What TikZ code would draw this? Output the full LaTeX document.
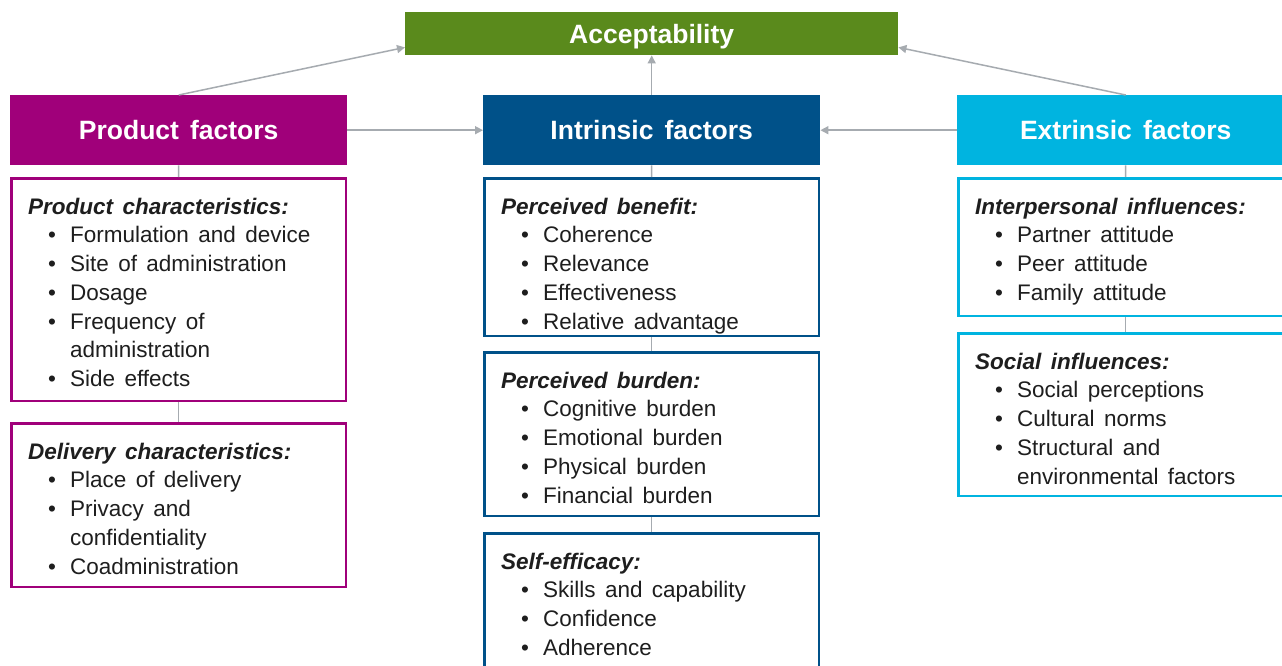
\documentclass[tikz,border=0pt]{standalone}
\usepackage{fontspec}
\setmainfont[WordSpace=1.5]{Liberation Sans}
\usetikzlibrary{arrows.meta,calc}

\definecolor{accgreen}{HTML}{5A8A1C}
\definecolor{prodc}{HTML}{A0007A}
\definecolor{intrc}{HTML}{005189}
\definecolor{extrc}{HTML}{00B4E0}
\definecolor{linkc}{HTML}{A6ABB0}
\definecolor{inkc}{HTML}{1E1E1E}

% list helpers for the panel texts
\newcommand\boxtitle[1]{\strut\textbf{\textit{#1}}}
\newcommand\bitem[1]{\strut\hspace*{20pt}\makebox[22pt][l]{\textbullet}#1}
\newcommand\bcont[1]{\strut\hspace*{42pt}#1}

\begin{document}
\begin{tikzpicture}[x=1pt,y=-1pt,
  hdr/.style={inner sep=0pt, anchor=north west, text=white,
    font=\fontsize{26.5}{30}\selectfont\bfseries, minimum height=70pt, minimum width=337pt},
  panel/.style={draw, line width=2.5pt, fill=white, inner sep=0pt, anchor=north west,
    minimum width=334.5pt},
  txt/.style={inner sep=0pt, anchor=north west, align=left, text=inkc,
    font=\fontsize{22.5}{28.7}\selectfont},
  conn/.style={draw=linkc, line width=1.5pt, -{Triangle[length=8pt,width=8pt]}},
  link/.style={draw=linkc, line width=1.5pt}
]
\clip (0,0) rectangle (1282,666);
\fill[white] (0,0) rectangle (1282,666);

% top box
\node[inner sep=0pt, anchor=north west, fill=accgreen, minimum width=493pt, minimum height=43pt,
  text depth=0pt, text=white, font=\fontsize{26.5}{30}\selectfont\bfseries] (acc) at (405,12) {Acceptability};

% column headers
\node[hdr, fill=prodc] (prod) at (10,95) {Product factors};
\node[hdr, fill=intrc] (intr) at (483,95) {Intrinsic factors};
\node[hdr, fill=extrc] (extr) at (957,95) {Extrinsic factors};

% product column
\node[panel, draw=prodc, minimum height=222.5pt] (pc) at (10,177) {};
\node[txt] (pct) at ([xshift=18pt,yshift=-17pt]pc.north west) {%
  \boxtitle{Product characteristics:}\\
  \bitem{Formulation and device}\\
  \bitem{Site of administration}\\
  \bitem{Dosage}\\
  \bitem{Frequency of}\\
  \bcont{administration}\\
  \bitem{Side effects}};
\node[panel, draw=prodc, minimum height=163.5pt] (dc) at (10,422) {};
\node[txt] (dct) at ([xshift=18pt,yshift=-17pt]dc.north west) {%
  \boxtitle{Delivery characteristics:}\\
  \bitem{Place of delivery}\\
  \bitem{Privacy and}\\
  \bcont{confidentiality}\\
  \bitem{Coadministration}};

% intrinsic column
\node[panel, draw=intrc, minimum height=157.5pt] (pb) at (483,177) {};
\node[txt] (pbt) at ([xshift=18pt,yshift=-17pt]pb.north west) {%
  \boxtitle{Perceived benefit:}\\
  \bitem{Coherence}\\
  \bitem{Relevance}\\
  \bitem{Effectiveness}\\
  \bitem{Relative advantage}};
\node[panel, draw=intrc, minimum height=163.5pt] (pu) at (483,351) {};
\node[txt] (put) at ([xshift=18pt,yshift=-17pt]pu.north west) {%
  \boxtitle{Perceived burden:}\\
  \bitem{Cognitive burden}\\
  \bitem{Emotional burden}\\
  \bitem{Physical burden}\\
  \bitem{Financial burden}};
\node[panel, draw=intrc, minimum height=160pt] (se) at (483,532) {};
\node[txt] (set) at ([xshift=18pt,yshift=-17pt]se.north west) {%
  \boxtitle{Self-efficacy:}\\
  \bitem{Skills and capability}\\
  \bitem{Confidence}\\
  \bitem{Adherence}};

% extrinsic column
\node[panel, draw=extrc, minimum height=137.5pt] (ip) at (957,177) {};
\node[txt] (ipt) at ([xshift=18pt,yshift=-17pt]ip.north west) {%
  \boxtitle{Interpersonal influences:}\\
  \bitem{Partner attitude}\\
  \bitem{Peer attitude}\\
  \bitem{Family attitude}};
\node[panel, draw=extrc, minimum height=162.5pt] (si) at (957,332) {};
\node[txt] (sit) at ([xshift=18pt,yshift=-17pt]si.north west) {%
  \boxtitle{Social influences:}\\
  \bitem{Social perceptions}\\
  \bitem{Cultural norms}\\
  \bitem{Structural and}\\
  \bcont{environmental factors}};

% arrows into the top box and the intrinsic header
\draw[conn] (prod.north) -- ([yshift=8pt]acc.south west);
\draw[conn] (intr.north) -- (acc.south);
\draw[conn] (extr.north) -- ([yshift=8pt]acc.south east);
\draw[conn] (prod.east) -- (intr.west);
\draw[conn] (extr.west) -- (intr.east);

% plain links down each column
\draw[link] (prod.south) -- (pc.north);
\draw[link] (pc.south) -- (dc.north);
\draw[link] (intr.south) -- (pb.north);
\draw[link] (pb.south) -- (pu.north);
\draw[link] (pu.south) -- (se.north);
\draw[link] (extr.south) -- (ip.north);
\draw[link] (ip.south) -- (si.north);
\end{tikzpicture}
\end{document}
